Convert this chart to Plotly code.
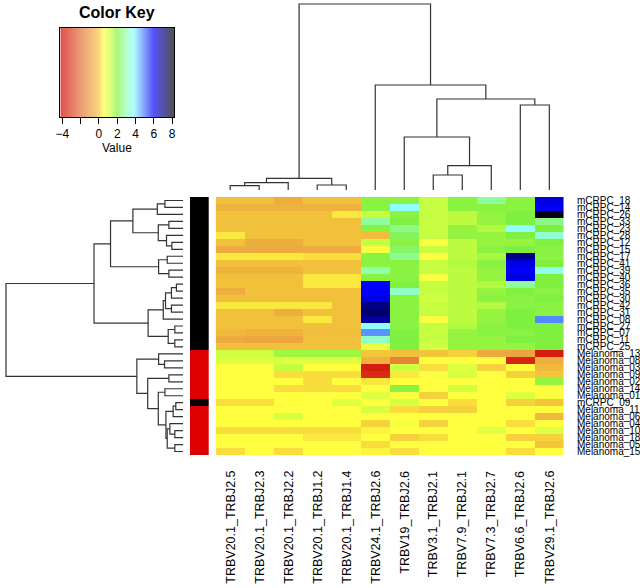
import numpy as np
import plotly.graph_objects as go

# ---------------- data ----------------
col_labels = ["TRBV20.1_TRBJ2.5", "TRBV20.1_TRBJ2.3", "TRBV20.1_TRBJ2.2", "TRBV20.1_TRBJ1.2",
              "TRBV20.1_TRBJ1.4", "TRBV24.1_TRBJ2.6", "TRBV19_TRBJ2.6", "TRBV3.1_TRBJ2.1",
              "TRBV7.9_TRBJ2.1", "TRBV7.3_TRBJ2.7", "TRBV6.6_TRBJ2.6", "TRBV29.1_TRBJ2.6"]

row_labels = ["mCRPC_18", "mCRPC_14", "mCRPC_26", "mCRPC_33", "mCRPC_23", "mCRPC_28", "mCRPC_12",
              "mCRPC_15", "mCRPC_17", "mCRPC_41", "mCRPC_39", "mCRPC_40", "mCRPC_36", "mCRPC_35",
              "mCRPC_30", "mCRPC_42", "mCRPC_31", "mCRPC_08", "mCRPC_27", "mCRPC_07", "mCRPC_11",
              "mCRPC_25", "Melanoma_13", "Melanoma_08", "Melanoma_03", "Melanoma_09", "Melanoma_02",
              "Melanoma_14", "Melanoma_01", "mCRPC_09", "Melanoma_11", "Melanoma_06", "Melanoma_04",
              "Melanoma_10", "Melanoma_18", "Melanoma_05", "Melanoma_15"]

# 0 = mCRPC (black), 1 = Melanoma (red)
row_group = [0] * 22 + [1] * 7 + [0] + [1] * 7

values = [
    [-0.1, -0.1, -0.5, -0.1, -0.1, 1.9, 1.9, 1.3, 1.9, 2.8, 1.9, 6.3],
    [-0.4, -0.4, -0.4, -0.4, -0.4, 1.9, 3.8, 1.3, 1.9, 1.9, 1.9, 6.1],
    [-0.1, -0.1, -0.1, -0.1, 0.3, 1.3, 1.9, 1.3, 1.4, 1.8, 2.0, 8.0],
    [-0.1, -0.1, -0.1, -0.1, -0.1, 2.8, 2.0, 1.3, 1.4, 1.8, 2.0, 2.6],
    [-0.1, -0.1, -0.1, -0.1, -0.1, 1.9, 2.6, 1.3, 1.8, 1.5, 3.8, 2.0],
    [0.3, -0.1, -0.1, -0.1, -0.1, -0.2, 2.2, 1.3, 1.8, 1.8, 2.0, 3.3],
    [-0.1, -0.5, -0.5, -0.1, -0.1, 1.3, 1.9, 0.6, 1.4, 1.8, 1.8, 2.0],
    [-0.6, -0.6, -0.6, -0.6, -0.6, 0.6, 2.3, 1.3, 1.4, 1.9, 2.0, 1.9],
    [0.3, 0.3, 0.3, 0.2, 0.2, 1.9, 2.7, 0.5, 1.4, 1.6, 7.0, 1.9],
    [-0.1, -0.1, -0.1, -0.1, -0.1, 1.9, 1.9, 1.3, 1.5, 1.9, 6.2, 2.0],
    [-0.4, -0.4, -0.4, -0.1, -0.1, 2.9, 1.9, 1.3, 1.4, 1.8, 6.0, 3.6],
    [-0.1, -0.1, -0.1, 0.3, 0.3, 1.9, 1.9, 0.6, 1.4, 1.8, 6.2, 2.0],
    [-0.1, -0.1, -0.1, 0.3, 0.3, 6.0, 2.0, 1.3, 1.4, 1.5, 2.8, 2.0],
    [-0.5, -0.1, -0.1, -0.1, -0.1, 6.0, 3.2, 1.3, 1.4, 1.8, 2.0, 1.9],
    [-0.1, -0.1, -0.1, -0.1, -0.1, 6.2, 1.9, 1.2, 1.4, 1.9, 1.9, 2.0],
    [0.3, 0.3, 0.3, 0.3, -0.1, 7.0, 1.9, 1.3, 1.4, 1.5, 1.9, 1.9],
    [-0.1, -0.1, -0.5, -0.1, -0.1, 7.2, 1.9, 1.3, 1.4, 1.8, 2.0, 1.9],
    [-0.1, -0.1, -0.1, 0.3, -0.1, 6.8, 1.9, 0.6, 1.4, 1.8, 2.0, 4.8],
    [-0.1, -0.1, -0.1, -0.1, -0.1, 3.8, 1.9, 1.3, 1.5, 1.9, 2.0, 2.0],
    [-0.3, -0.4, -0.4, -0.2, -0.2, 4.7, 2.0, 1.3, 1.8, 1.9, 1.9, 2.0],
    [-0.6, -0.7, -0.7, -0.1, -0.1, 3.2, 2.0, 1.3, 1.8, 1.8, 2.0, 2.0],
    [-0.1, -0.1, -0.1, -0.1, -0.1, 0.8, 2.0, 1.2, 1.8, 1.8, 1.8, 2.0],
    [1.2, 1.2, 1.7, 1.7, 1.7, 0.0, -0.1, 0.0, 0.1, -0.6, -0.7, -3.6],
    [1.0, 1.0, 1.0, 1.0, 1.0, -0.4, -1.5, 0.5, 0.5, 0.5, -3.4, -0.5],
    [0.5, 0.5, 1.3, 0.5, 0.5, -3.6, 1.2, 0.2, 1.0, 0.1, 0.5, -0.3],
    [0.5, 0.5, 0.2, 0.2, 0.2, -3.3, 0.3, 0.6, 1.1, 0.5, 0.1, 0.0],
    [0.5, 0.5, 0.5, 0.2, 0.5, 0.3, 0.5, 0.5, 0.5, 0.5, 0.5, 1.8],
    [0.5, 0.5, 0.2, 0.2, 0.2, 0.5, 1.9, 0.5, 1.2, 0.5, 0.5, 0.5],
    [0.5, 0.5, 0.5, 0.5, 0.5, 1.0, 0.6, 0.1, 0.5, 0.5, 1.0, 0.5],
    [0.2, 0.2, 0.5, 0.5, 1.0, 0.5, 1.1, 0.5, 0.2, 0.5, 0.1, 0.0],
    [0.5, 0.5, 0.5, 0.5, 0.5, 1.1, 0.2, 0.1, 0.1, 0.5, 0.5, 0.5],
    [0.5, 0.5, 1.1, 0.5, 0.5, 0.5, 0.5, 0.5, 0.5, 0.5, 0.5, -0.3],
    [0.5, 0.5, 0.5, 0.5, 0.5, 0.1, 0.6, 0.1, 0.5, 0.5, 0.2, 0.5],
    [0.2, 0.2, 0.2, 0.2, 0.2, 0.4, 0.5, 0.5, 0.5, 1.0, 0.5, 1.0],
    [0.5, 0.5, 0.5, 0.3, 0.3, 0.5, 0.1, 0.2, 0.5, 0.5, 0.1, 0.1],
    [0.5, 0.5, 0.5, 0.5, 0.5, 0.2, 0.5, 0.5, 0.5, 0.5, 0.5, 0.0],
    [0.2, 0.5, 0.2, 0.5, 0.5, 0.4, 0.2, 0.5, 0.5, 0.5, 0.2, 0.5],
]

# dendrogram merges (R hclust style): negative = leaf -(position+1), positive = earlier merge id
col_merges = [(-1, -2, 4.3), (1, -3, 7.3), (-4, -5, 5.0), (2, 3, 11.7), (-8, -9, 15.0),
              (5, -10, 24.3), (-7, 6, 53.0), (-11, -12, 85.0), (7, 8, 91.0), (-6, 9, 105.0),
              (4, 10, 186.0)]

row_merges = [(-1, -2, 18.3), (1, -3, 26.0), (-4, -5, 14.3), (-7, -8, 11.3), (-6, 4, 16.7),
              (3, 5, 25.0), (2, 6, 50.7), (-9, -10, 16.0), (-11, -12, 14.3), (8, 9, 24.7),
              (7, 10, 73.3), (-13, -14, 6.7), (12, -15, 11.7), (-16, -17, 11.7), (13, 14, 17.7),
              (15, -18, 20.0), (-19, -20, 8.3), (-21, -22, 8.3), (17, 18, 15.0), (16, 19, 35.3),
              (11, 20, 90.0), (-24, -25, 18.7), (-23, 22, 24.7), (-26, -27, 14.3), (-28, -29, 18.3),
              (-30, -31, 7.3), (26, -32, 10.0), (-34, -35, 8.3), (-33, 28, 13.3), (-36, -37, 8.3),
              (29, 30, 16.0), (27, 31, 17.3), (25, 32, 25.0), (24, 33, 35.7), (23, 34, 46.7),
              (21, 35, 179.0)]

key_ticks = [-4, -2, 0, 2, 4, 6, 8]
key_ticktext = ["\u22124", "", "0", "2", "4", "6", "8"]

# ---------------- styling ----------------
W, H = 640, 588
ZMIN, ZMAX = -4.22, 8.22
stops = [(-4.22, "#d00000"), (-3.2, "#d83018"), (-2.0, "#e07030"), (-0.8, "#eba040"),
         (0.0, "#f3c63a"), (0.5, "#ffff40"), (1.2, "#d0ff40"), (2.0, "#80f040"),
         (2.9, "#90ffa8"), (3.8, "#90ffff"), (4.6, "#60a0ff"), (5.5, "#2838f5"),
         (6.0, "#0000ff"), (7.0, "#000080"), (8.22, "#000000")]
cscale = [[(v - ZMIN) / (ZMAX - ZMIN), c] for v, c in stops]

FONT = "Liberation Sans, Arial, Helvetica, sans-serif"
LINE = dict(color="#333333", width=1.2)


def px_x(a, b):
    return [a / W, b / W]


def px_y(top, bottom):
    return [1 - bottom / H, 1 - top / H]


def dendro_lines(merges):
    pos, hgt = {}, {}
    xs, ys = [], []

    def get(ref):
        if ref < 0:
            return -ref - 1, 0.0
        return pos[ref], hgt[ref]

    for k, (a, b, h) in enumerate(merges, start=1):
        pa, ha = get(a)
        pb, hb = get(b)
        xs += [pa, pa, pb, pb, None]
        ys += [ha, h, h, hb, None]
        pos[k] = (pa + pb) / 2
        hgt[k] = h
    return xs, ys


nrow, ncol = len(row_labels), len(col_labels)
HM_X = (213, 565)
HM_Y = (197, 455)

fig = go.Figure()

# main heatmap
fig.add_trace(go.Heatmap(z=values, x=list(range(ncol)), y=list(range(nrow)),
                         colorscale=cscale, zmin=ZMIN, zmax=ZMAX, showscale=False,
                         xaxis="x", yaxis="y", hoverinfo="skip"))

# side colour bar
fig.add_trace(go.Heatmap(z=[[g] for g in row_group], x=[0], y=list(range(nrow)),
                         colorscale=[[0, "#000000"], [1, "#dd0000"]], zmin=0, zmax=1,
                         showscale=False, xaxis="x2", yaxis="y2", hoverinfo="skip"))

# row dendrogram
rx, ry = dendro_lines(row_merges)
fig.add_trace(go.Scatter(x=ry, y=rx, mode="lines", line=LINE, xaxis="x3", yaxis="y3",
                         hoverinfo="skip", showlegend=False))

# column dendrogram
cx, cy = dendro_lines(col_merges)
fig.add_trace(go.Scatter(x=cx, y=cy, mode="lines", line=LINE, xaxis="x4", yaxis="y4",
                         hoverinfo="skip", showlegend=False))

# colour key swatch
kv = np.linspace(ZMIN, ZMAX, 300)
fig.add_trace(go.Heatmap(z=[kv], x=kv, y=[0.5], colorscale=cscale, zmin=ZMIN, zmax=ZMAX,
                         showscale=False, opacity=0.68, xaxis="x5", yaxis="y5",
                         hoverinfo="skip"))

hidden = dict(visible=False, showgrid=False, zeroline=False, fixedrange=True)
fig.update_layout(
    width=W, height=H, margin=dict(l=0, r=0, t=0, b=0),
    paper_bgcolor="white", plot_bgcolor="white", showlegend=False,
    font=dict(family=FONT, color="black"),
    xaxis=dict(hidden, domain=px_x(*HM_X), range=[-0.5, ncol - 0.5]),
    yaxis=dict(hidden, domain=px_y(*HM_Y), range=[nrow - 0.5, -0.5]),
    xaxis2=dict(hidden, domain=px_x(187, 206), range=[-0.5, 0.5], anchor="y2"),
    yaxis2=dict(hidden, domain=px_y(*HM_Y), range=[nrow - 0.5, -0.5], anchor="x2"),
    xaxis3=dict(hidden, domain=px_x(0, 180), range=[180, 0], anchor="y3"),
    yaxis3=dict(hidden, domain=px_y(*HM_Y), range=[nrow - 0.5, -0.5], anchor="x3"),
    xaxis4=dict(hidden, domain=px_x(*HM_X), range=[-0.5, ncol - 0.5], anchor="y4"),
    yaxis4=dict(hidden, domain=px_y(0, 190), range=[0, 190], anchor="x4"),
    xaxis5=dict(domain=px_x(56, 171), range=[ZMIN, ZMAX], anchor="y5",
                showline=True, mirror=True, linecolor="black", linewidth=1,
                ticks="outside", ticklen=6, tickcolor="black", tickwidth=1,
                tickvals=key_ticks, ticktext=key_ticktext,
                tickfont=dict(size=12, family=FONT), showgrid=False, zeroline=False,
                fixedrange=True),
    yaxis5=dict(domain=px_y(28, 117), range=[0, 1], anchor="x5",
                showline=True, mirror=True, linecolor="black", linewidth=1,
                showticklabels=False, ticks="", showgrid=False, zeroline=False,
                fixedrange=True),
)

ann = []
ann.append(dict(text="<b>Color Key</b>", x=113.5 / W, y=1 - 13 / H, xref="paper", yref="paper",
                showarrow=False, font=dict(size=16, family=FONT), xanchor="center",
                yanchor="middle"))
ann.append(dict(text="Value", x=113.5 / W, y=1 - 148 / H, xref="paper", yref="paper",
                showarrow=False, font=dict(size=12, family=FONT), xanchor="center",
                yanchor="middle"))
for j, lab in enumerate(col_labels):
    ann.append(dict(text=lab, x=j, y=1 - 469 / H, xref="x", yref="paper", textangle=-90,
                    showarrow=False, xanchor="center", yanchor="top",
                    font=dict(size=12.5, family=FONT)))
for i, lab in enumerate(row_labels):
    ann.append(dict(text=lab, x=576 / W, y=i, xref="paper", yref="y", showarrow=False,
                    xanchor="left", yanchor="middle", font=dict(size=10, family=FONT)))
fig.update_layout(annotations=ann)

fig.write_html("out.html", config={"displayModeBar": False, "staticPlot": True},
               post_script="document.body.style.margin='0';document.body.style.overflow='hidden';")
